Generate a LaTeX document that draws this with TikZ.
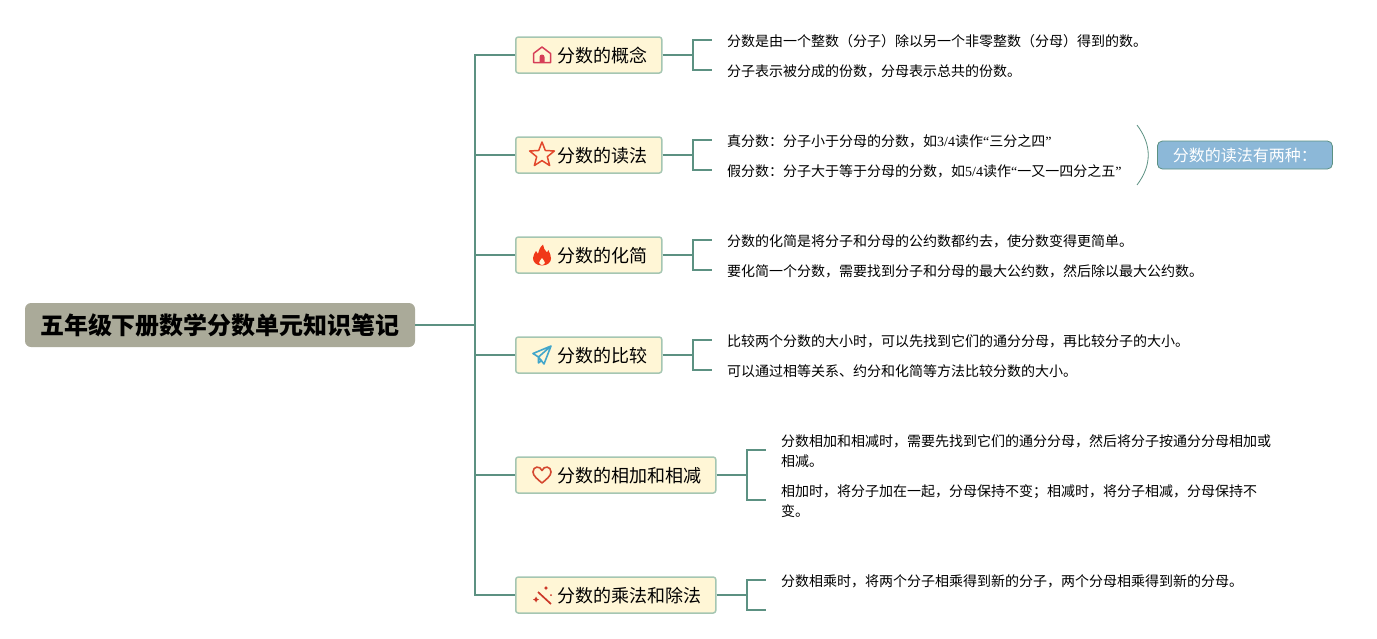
\documentclass[tikz,border=0pt]{standalone}
\usepackage{fontspec}
\setmainfont{Noto Sans CJK SC}
\newfontfamily\latinfont{Liberation Serif}
\definecolor{BranchGreen}{RGB}{92, 145, 130}
\definecolor{TopicBorder}{RGB}{165, 198, 178}
\definecolor{TopicFill}{RGB}{255, 246, 214}
\definecolor{RootGray}{RGB}{170, 170, 153}
\definecolor{NoteBlue}{RGB}{140, 184, 216}
\definecolor{HomeRed}{RGB}{214, 62, 88}
\definecolor{StarRed}{RGB}{226, 72, 44}
\definecolor{FireRed}{RGB}{240, 56, 24}
\definecolor{PlaneBlue}{RGB}{66, 166, 202}
\definecolor{HeartRed}{RGB}{212, 72, 48}
\definecolor{WandRed}{RGB}{204, 56, 40}
\usetikzlibrary{positioning}
\newcommand{\lat}[1]{{\latinfont #1}}

\tikzset{
  rootbox/.style={fill=RootGray, rounded corners=6pt, minimum width=390pt, minimum height=44pt, inner sep=0pt, font=\fontsize{24}{28}\selectfont\bfseries},
  topicbox/.style={draw=TopicBorder, line width=1.5pt, fill=TopicFill, rounded corners=2.5pt, minimum height=36pt, inner xsep=14pt, inner ysep=0pt, text height=16.8pt, text depth=1.2pt, font=\fontsize{18}{22}\selectfont},
  leafbox/.style={inner xsep=15pt, inner ysep=0pt, align=left, font=\fontsize{14}{20}\selectfont},
  notebox/.style={draw=BranchGreen, line width=0.8pt, fill=NoteBlue, text=white, rounded corners=5pt, minimum width=175pt, minimum height=28pt, inner sep=0pt, font=\fontsize{16}{20}\selectfont},
  branch/.style={draw=BranchGreen, line width=2pt},
  homeicon/.pic={
    \draw[line width=1.5pt, draw=HomeRed, line join=round] (-8.5,-7.5) -- (-8.5,1.5) -- (0,8) -- (8.5,1.5) -- (8.5,-7.5) -- cycle;
    \fill[HomeRed] (-2.5,-7.5) -- (-2.5,-2) arc (180:0:2.5) -- (2.5,-7.5) -- cycle;
  },
  staricon/.pic={
    \draw[line width=1.5pt, draw=StarRed, line join=round] (90:13) -- (126:5.6) -- (162:13) -- (198:5.6) -- (234:13) -- (270:5.6) -- (306:13) -- (342:5.6) -- (18:13) -- (54:5.6) -- cycle;
  },
  fireicon/.pic={
    \fill[FireRed] (0,-10.5) .. controls (-6,-10.5) and (-9,-7) .. (-9,-3) .. controls (-9,0) and (-7,2) .. (-6,4) .. controls (-5,3) and (-4.5,2) .. (-4,1) .. controls (-3,5) and (-2,8) .. (1,10.5) .. controls (1,7) and (3,5) .. (5,2.5) .. controls (5.5,3) and (6,4) .. (6.3,5) .. controls (8,2) and (9,-1) .. (9,-3.5) .. controls (9,-7) and (6,-10.5) .. (0,-10.5) -- cycle;
    \fill[TopicFill] (0,-10) .. controls (-2,-10) and (-2.8,-8.5) .. (-2.8,-7.5) .. controls (-2.8,-6) and (-1,-5) .. (0,-3) .. controls (1,-5) and (2.8,-6) .. (2.8,-7.5) .. controls (2.8,-8.5) and (2,-10) .. (0,-10) -- cycle;
  },
  planeicon/.pic={
    \draw[line width=1.6pt, draw=PlaneBlue, line join=round] (9,9) -- (-9,1.5) -- (-3.5,-2) -- (9,9) -- (2,-9) -- (-3.5,-2) -- (-3.5,-8) -- (0,-5);
  },
  hearticon/.pic={
    \draw[line width=1.6pt, draw=HeartRed, line join=round] (0,-8) .. controls (-4,-4.5) and (-9,-1) .. (-9,3) .. controls (-9,9) and (-2,9.5) .. (0,4.5) .. controls (2,9.5) and (9,9) .. (9,3) .. controls (9,-1) and (4,-4.5) .. (0,-8) -- cycle;
  },
  wandicon/.pic={
    \draw[line width=1.7pt, draw=WandRed] (-4,3) -- (9,-9);
    \fill[WandRed] (4,9) -- (4.8,7.8) -- (6,7) -- (4.8,6.2) -- (4,5) -- (3.2,6.2) -- (2,7) -- (3.2,7.8) -- cycle;
    \fill[WandRed] (-6,-1.5) -- (-5,-3.5) -- (-3,-4.5) -- (-5,-5.5) -- (-6,-7.5) -- (-7,-5.5) -- (-9,-4.5) -- (-7,-3.5) -- cycle;
    \fill[WandRed] (9,0) circle (1);
  }
}

\begin{document}
\begin{tikzpicture}[x=1pt, y=1pt]
  \useasboundingbox (0,0) rectangle (1377,-638);

  \node[rootbox] (root) at (220,-325) {五年级下册数学分数单元知识笔记};
  \coordinate[right=60pt of root.east] (trunk);

  \node[topicbox, anchor=west] (concept) at (515,-55) {\hspace*{28pt}分数的概念};
  \node[topicbox, anchor=west] (reading) at (515,-155) {\hspace*{28pt}分数的读法};
  \node[topicbox, anchor=west] (simplify) at (515,-255) {\hspace*{28pt}分数的化简};
  \node[topicbox, anchor=west] (compare) at (515,-355) {\hspace*{28pt}分数的比较};
  \node[topicbox, anchor=west] (addsub) at (515,-475) {\hspace*{28pt}分数的相加和相减};
  \node[topicbox, anchor=west] (muldiv) at (515,-595) {\hspace*{28pt}分数的乘法和除法};

  \pic at (542,-55) {homeicon};
  \pic at (542,-155) {staricon};
  \pic at (542,-255) {fireicon};
  \pic at (542,-355) {planeicon};
  \pic at (542,-475) {hearticon};
  \pic at (542,-595) {wandicon};

  \node[leafbox, anchor=west] (conceptA) at (712,-41.5) {分数是由一个整数（分子）除以另一个非零整数（分母）得到的数。};
  \node[leafbox, anchor=west] (conceptB) at (712,-71.5) {分子表示被分成的份数，分母表示总共的份数。};
  \node[leafbox, anchor=west] (readingA) at (712,-141.5) {真分数：分子小于分母的分数，如\lat{3/4}读作\lat{“}三分之四\lat{”}};
  \node[leafbox, anchor=west] (readingB) at (712,-171.5) {假分数：分子大于等于分母的分数，如\lat{5/4}读作\lat{“}一又一四分之五\lat{”}};
  \node[leafbox, anchor=west] (simplifyA) at (712,-241.5) {分数的化简是将分子和分母的公约数都约去，使分数变得更简单。};
  \node[leafbox, anchor=west] (simplifyB) at (712,-271.5) {要化简一个分数，需要找到分子和分母的最大公约数，然后除以最大公约数。};
  \node[leafbox, anchor=west] (compareA) at (712,-341.5) {比较两个分数的大小时，可以先找到它们的通分分母，再比较分子的大小。};
  \node[leafbox, anchor=west] (compareB) at (712,-371.5) {可以通过相等关系、约分和化简等方法比较分数的大小。};
  \node[leafbox, anchor=west] (addsubA) at (766,-451.5) {分数相加和相减时，需要先找到它们的通分分母，然后将分子按通分分母相加或\\相减。};
  \node[leafbox, anchor=west] (addsubB) at (766,-501.5) {相加时，将分子加在一起，分母保持不变；相减时，将分子相减，分母保持不\\变。};
  \node[leafbox, anchor=west] (muldivA) at (766,-581.5) {分数相乘时，将两个分子相乘得到新的分子，两个分母相乘得到新的分母。};
  \coordinate (muldivEnd) at (766,-610);

  \node[notebox, anchor=west] (note) at (1157,-155) {分数的读法有两种：};
  \coordinate (noteTop) at (1137,-125);
  \coordinate (noteBot) at (1137,-185);

  \draw[branch] (root.east) -- (trunk);
  \draw[branch] (trunk) |- (concept.west);
  \draw[branch] (trunk) |- (reading.west);
  \draw[branch] (trunk) |- (simplify.west);
  \draw[branch] (trunk) |- (compare.west);
  \draw[branch] (trunk) |- (addsub.west);
  \draw[branch] (trunk) |- (muldiv.west);

  \draw[branch] (concept.east) -- ++(30,0) |- ([yshift=1.5pt]conceptA.west);
  \draw[branch] (concept.east) -- ++(30,0) |- ([yshift=1.5pt]conceptB.west);
  \draw[branch] (reading.east) -- ++(30,0) |- ([yshift=1.5pt]readingA.west);
  \draw[branch] (reading.east) -- ++(30,0) |- ([yshift=1.5pt]readingB.west);
  \draw[branch] (simplify.east) -- ++(30,0) |- ([yshift=1.5pt]simplifyA.west);
  \draw[branch] (simplify.east) -- ++(30,0) |- ([yshift=1.5pt]simplifyB.west);
  \draw[branch] (compare.east) -- ++(30,0) |- ([yshift=1.5pt]compareA.west);
  \draw[branch] (compare.east) -- ++(30,0) |- ([yshift=1.5pt]compareB.west);
  \draw[branch] (addsub.east) -- ++(30,0) |- ([yshift=1.5pt]addsubA.west);
  \draw[branch] (addsub.east) -- ++(30,0) |- ([yshift=1.5pt]addsubB.west);
  \draw[branch] (muldiv.east) -- ++(30,0) |- ([yshift=1.5pt]muldivA.west);
  \draw[branch] (muldiv.east) -- ++(30,0) |- (muldivEnd);

  \draw[draw=BranchGreen, line width=0.8pt] (noteTop) .. controls (1152,-145) and (1152,-165) .. (noteBot);
\end{tikzpicture}
\end{document}
